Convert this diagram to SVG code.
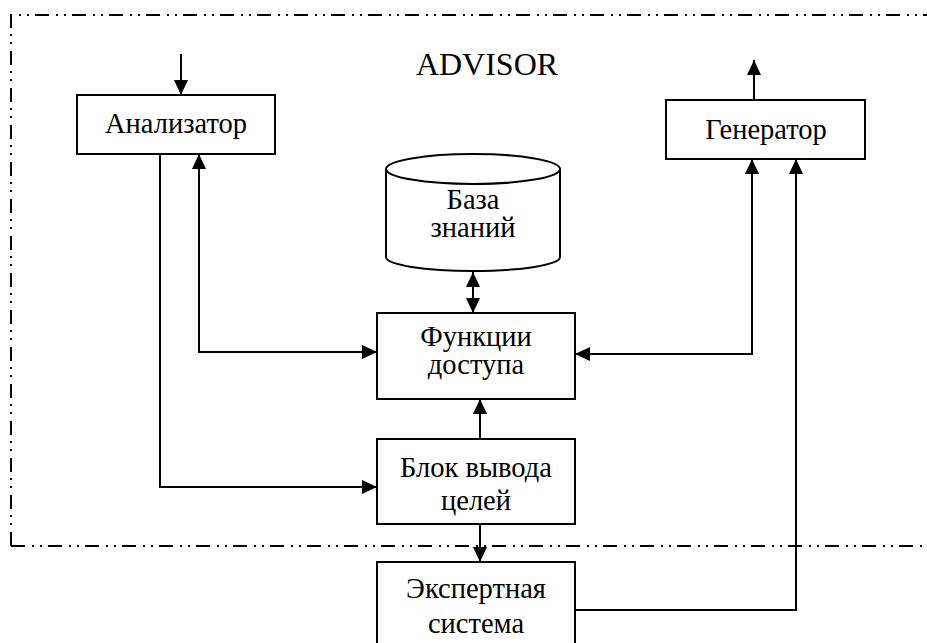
<svg xmlns="http://www.w3.org/2000/svg" width="927" height="643" viewBox="0 0 927 643">
  <style>
    .box { fill: #fff; stroke: #000; stroke-width: 2; }
    .wire { fill: none; stroke: #000; stroke-width: 2; }
    .frame { fill: none; stroke: #000; stroke-width: 2; stroke-dasharray: 14 7 2 6 2 6; }
    text { font-family: "Liberation Serif", "Times New Roman", serif; font-size: 28.5px; fill: #000; text-anchor: middle; }
    .title { font-size: 32px; }
  </style>
  <defs>
    <marker id="arrow" viewBox="0 0 15 14" refX="15" refY="7" markerWidth="15" markerHeight="14" markerUnits="userSpaceOnUse" orient="auto-start-reverse">
      <path d="M0,0 L15,7 L0,14 z" fill="#000"/>
    </marker>
  </defs>

  <rect width="927" height="643" fill="#fff"/>

  <!-- system boundary -->
  <g id="boundary">
    <path class="frame" d="M11,546 L11,15 L927,15"/>
    <path class="frame" d="M11,546 L927,546"/>
    <text class="title" x="487" y="75">ADVISOR</text>
  </g>

  <g id="analyzer">
    <rect class="box" x="77" y="95" width="198" height="59"/>
    <text x="176" y="133">Анализатор</text>
  </g>

  <g id="generator">
    <rect class="box" x="666" y="100" width="199" height="59"/>
    <text x="766" y="139">Генератор</text>
  </g>

  <g id="knowledge-base">
    <path class="box" d="M386,169 L386,257 A87,14 0 0 0 560,257 L560,169"/>
    <ellipse class="box" cx="473" cy="169" rx="87" ry="15"/>
    <text x="473" y="209">База</text>
    <text x="473" y="237">знаний</text>
  </g>

  <g id="access-functions">
    <rect class="box" x="377" y="313" width="198" height="86"/>
    <text x="476" y="346">Функции</text>
    <text x="476" y="374">доступа</text>
  </g>

  <g id="goal-inference">
    <rect class="box" x="377" y="439" width="198" height="85"/>
    <text x="476" y="477">Блок вывода</text>
    <text x="476" y="510">целей</text>
  </g>

  <g id="expert-system">
    <rect class="box" x="377" y="562" width="198" height="90"/>
    <text x="476" y="598">Экспертная</text>
    <text x="476" y="633">система</text>
  </g>

  <g id="connectors">
    <!-- input to analyzer -->
    <path class="wire" d="M181,54 L181,95" marker-end="url(#arrow)"/>
    <!-- analyzer to goal inference -->
    <path class="wire" d="M160,154 L160,487 L377,487" marker-end="url(#arrow)"/>
    <!-- analyzer <-> access functions -->
    <path class="wire" d="M199,154 L199,352 L377,352" marker-start="url(#arrow)" marker-end="url(#arrow)"/>
    <!-- knowledge base <-> access functions -->
    <path class="wire" d="M473,272 L473,313" marker-start="url(#arrow)" marker-end="url(#arrow)"/>
    <!-- access functions <-> generator -->
    <path class="wire" d="M575,354 L752,354 L752,159" marker-start="url(#arrow)" marker-end="url(#arrow)"/>
    <!-- goal inference to access functions -->
    <path class="wire" d="M480,439 L480,399" marker-end="url(#arrow)"/>
    <!-- goal inference to expert system -->
    <path class="wire" d="M480,524 L480,562" marker-end="url(#arrow)"/>
    <!-- expert system to generator -->
    <path class="wire" d="M575,610 L796,610 L796,159" marker-end="url(#arrow)"/>
    <!-- generator output -->
    <path class="wire" d="M754,100 L754,60" marker-end="url(#arrow)"/>
  </g>
</svg>
